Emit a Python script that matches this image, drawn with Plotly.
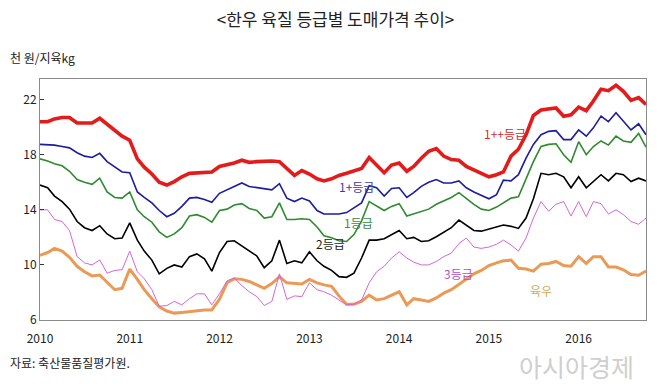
import pandas as pd
import plotly.graph_objects as go

months = pd.date_range("2010-01-01", periods=82, freq="MS")

grade_1pp = [20.4, 20.4, 20.6, 20.7, 20.7, 20.3, 20.3, 20.3, 20.65, 20.2, 19.8, 19.35, 19.05, 17.7, 17.1, 16.6,
             16.0, 15.8, 16.05, 16.4, 16.65, 16.7, 16.7, 16.75, 17.15, 17.25, 17.4, 17.6, 17.45, 17.5, 17.55, 17.55,
             17.5, 17.05, 16.5, 16.85, 16.6, 16.25, 16.1, 16.25, 16.5, 16.65, 16.8, 17.0, 17.8, 17.3, 16.7, 17.25,
             17.4, 16.8, 17.15, 17.75, 18.25, 18.45, 17.9, 17.65, 17.6, 17.15, 16.9, 16.7, 16.4, 16.55, 16.75, 17.9,
             18.4, 19.45, 20.85, 21.25, 21.3, 21.4, 20.8, 20.9, 21.45, 21.2, 21.9, 22.75, 22.65, 23.05, 22.6, 21.95,
             22.15, 21.65]
grade_1p = [18.75, 18.75, 18.7, 18.6, 18.5, 18.15, 17.9, 17.8, 18.1, 17.5, 17.1, 16.75, 16.7, 15.3, 14.9, 14.5,
            13.95, 13.5, 13.75, 14.25, 14.85, 14.9, 14.75, 14.55, 15.2, 15.45, 15.7, 15.95, 15.7, 15.6, 15.55, 15.45,
            15.9, 14.85, 14.6, 14.85, 14.65, 13.95, 13.7, 13.7, 13.7, 13.8, 14.15, 14.5, 15.75, 15.6, 15.0, 15.55,
            15.6, 14.9, 15.25, 15.7, 16.0, 16.2, 15.95, 15.95, 16.1, 15.6, 15.3, 15.05, 14.8, 15.1, 16.15, 16.1,
            16.55, 17.75, 18.75, 19.45, 19.7, 19.75, 19.1, 19.1, 19.8, 19.35, 19.95, 20.8, 20.4, 21.05, 20.4, 19.8,
            20.25, 19.45]
grade_1 = [17.7, 17.55, 17.35, 17.2, 16.8, 16.2, 16.0, 15.85, 16.3, 15.3, 14.9, 14.85, 15.3, 14.0, 13.5, 13.1,
           12.4, 12.0, 12.25, 12.7, 13.55, 13.65, 13.45, 13.1, 13.95, 14.05, 14.35, 14.45, 14.1, 13.95, 13.4, 13.5,
           14.5, 13.3, 13.3, 13.35, 13.3, 12.75, 12.12, 11.97, 11.75, 11.7, 12.2, 13.2, 14.6, 14.3, 13.95, 14.25,
           14.45, 13.55, 13.7, 13.9, 14.05, 14.4, 14.65, 14.9, 15.25, 14.8, 14.4, 14.05, 13.95, 14.2, 14.5, 14.85,
           14.95, 16.3, 17.5, 18.6, 18.75, 18.8, 18.0, 17.45, 18.95, 18.0, 18.6, 19.0, 18.7, 19.35, 19.0, 18.9,
           19.55, 18.55]
grade_2 = [15.8, 15.6, 15.0, 14.6, 14.05, 13.15, 12.7, 12.5, 12.85, 12.25, 11.9, 11.95, 13.05, 11.8, 11.0, 10.35,
           9.35, 9.75, 10.0, 9.85, 10.6, 10.8, 10.45, 9.55, 10.9, 11.7, 11.75, 11.4, 11.0, 10.65, 9.8, 10.3,
           11.8, 10.1, 10.3, 10.15, 10.95, 10.3, 9.9, 9.6, 9.15, 9.1, 9.4, 10.5, 11.8, 11.8, 11.9, 12.2,
           12.5, 11.9, 12.0, 11.7, 11.75, 12.05, 12.4, 12.7, 13.25, 12.85, 12.5, 12.45, 12.6, 12.75, 12.9, 12.8,
           12.65, 13.4, 14.8, 16.65, 16.55, 16.65, 16.4, 15.6, 16.4, 15.6, 16.05, 16.55, 16.1, 16.65, 16.55, 16.05,
           16.3, 16.1]
grade_3 = [14.0, 14.0, 13.3, 13.15, 12.5, 10.6, 10.15, 10.0, 10.36, 9.4, 9.6, 9.65, 11.0, 9.5, 9.0, 8.2,
           7.0, 7.05, 7.35, 7.1, 7.55, 7.9, 7.9, 7.1, 7.9, 8.85, 9.05, 8.5, 8.05, 7.7, 7.05, 7.35,
           9.35, 7.5, 7.75, 7.7, 8.7, 8.2, 8.05, 7.8, 7.45, 7.1, 7.15, 7.45, 8.7, 9.5, 9.9, 10.5,
           10.95, 10.5, 10.2, 10.0, 10.0, 10.25, 10.6, 10.85, 11.55, 11.95, 11.3, 11.2, 11.3, 11.5, 11.8, 11.45,
           11.0, 11.95, 13.4, 14.6, 13.9, 14.4, 14.6, 13.55, 14.6, 13.5, 14.6, 14.45, 13.7, 14.0, 13.65, 13.15,
           12.95, 13.4]
yukwoo = [10.7, 10.9, 11.2, 11.0, 10.55, 9.9, 9.5, 9.2, 9.27, 8.75, 8.2, 8.3, 9.7, 8.95, 8.2, 7.55,
          6.95, 6.65, 6.5, 6.55, 6.62, 6.68, 6.72, 6.73, 7.5, 8.7, 9.0, 8.95, 8.8, 8.55, 8.3, 8.65,
          9.15, 8.7, 8.65, 8.62, 8.95, 8.7, 8.55, 8.45, 7.75, 7.15, 7.15, 7.35, 7.8, 7.45, 7.55, 7.8,
          8.05, 7.1, 7.55, 7.45, 7.35, 7.6, 7.95, 8.2, 8.6, 8.95, 9.35, 9.6, 9.95, 10.15, 10.3, 10.35,
          9.75, 9.7, 9.55, 10.05, 10.1, 10.25, 9.95, 9.9, 10.6, 10.1, 10.6, 10.6, 9.85, 9.85, 9.65, 9.3,
          9.25, 9.55]

series_names = ["육우", "3등급", "2등급", "1등급", "1+등급", "1++등급"]
series_values = [yukwoo, grade_3, grade_2, grade_1, grade_1p, grade_1pp]
series_colors = ["#ea9a55", "#d366d8", "#000000", "#2f8a2f", "#1c1ca0", "#e31b1b"]
series_widths = [3, 1, 1.6, 1.6, 1.6, 3.6]

year_ticks = pd.date_range("2010-01-01", "2016-01-01", freq="YS")
year_labels = [str(d.year) for d in year_ticks]
y_ticks = [6, 10, 14, 18, 22]

FONT = "Noto Sans CJK KR"
fig = go.Figure()
for name, vals, col, w in zip(series_names, series_values, series_colors, series_widths):
    fig.add_trace(go.Scatter(x=months, y=vals, mode="lines", name=name,
                             line=dict(color=col, width=w), showlegend=False))

W, H = 671, 391
L, R, T, B = 40, 25, 79, 71
pw, ph = W - L - R, H - T - B


def px(x, y):
    return (x - L) / pw, (H - B - y) / ph


labels = [("1++등급", 505, 133, "#d42a2a"), ("1+등급", 356, 186, "#3b3ba8"),
          ("1등급", 358, 222, "#3c8c3c"), ("2등급", 330, 243, "#222222"),
          ("3등급", 458, 273, "#b84cc0"), ("육우", 541, 290, "#d4a858")]
for text, x, y, c in labels:
    xx, yy = px(x, y)
    fig.add_annotation(x=xx, y=yy, xref="paper", yref="paper", text=text, showarrow=False,
                       font=dict(family=FONT, size=12, color=c), xanchor="center", yanchor="middle")

fig.update_layout(
    width=W, height=H,
    margin=dict(l=L, r=R, t=T, b=B),
    paper_bgcolor="white", plot_bgcolor="white",
    font=dict(family=FONT, size=12, color="#222"),
    title=dict(text="&lt;한우 육질 등급별 도매가격 추이&gt;", x=0.5, xanchor="center",
               y=1 - 20 / H, yanchor="middle", font=dict(family=FONT, size=17, color="#222")),
    xaxis=dict(range=[months[0], months[-1]], tickvals=list(year_ticks), ticktext=year_labels,
               showgrid=False, zeroline=False, showline=True, linecolor="#8a8a8a", linewidth=1,
               mirror=True, ticks="", ticklabelstandoff=8, tickfont=dict(size=12, color="#222")),
    yaxis=dict(range=[6, 23.5], tickvals=y_ticks, showgrid=False, zeroline=False, showline=True,
               linecolor="#8a8a8a", linewidth=1, mirror=True, ticks="inside", ticklen=4,
               tickcolor="#333", tickfont=dict(size=12, color="#222")),
)

for text, x, y, anchor, size, color in [("천 원/지육kg", 8, 57, "left", 12, "#222"),
                                        ("자료: 축산물품질평가원.", 8, 362, "left", 12, "#222"),
                                        ("아시아경제", 636, 366, "right", 25, "#cfcfcf")]:
    xx, yy = px(x, y)
    fig.add_annotation(x=xx, y=yy, xref="paper", yref="paper", text=text, showarrow=False,
                       xanchor=anchor, yanchor="middle", font=dict(family=FONT, size=size, color=color))

fig.write_html("out.html", config={"displayModeBar": False},
               post_script="document.body.style.margin='0';")
